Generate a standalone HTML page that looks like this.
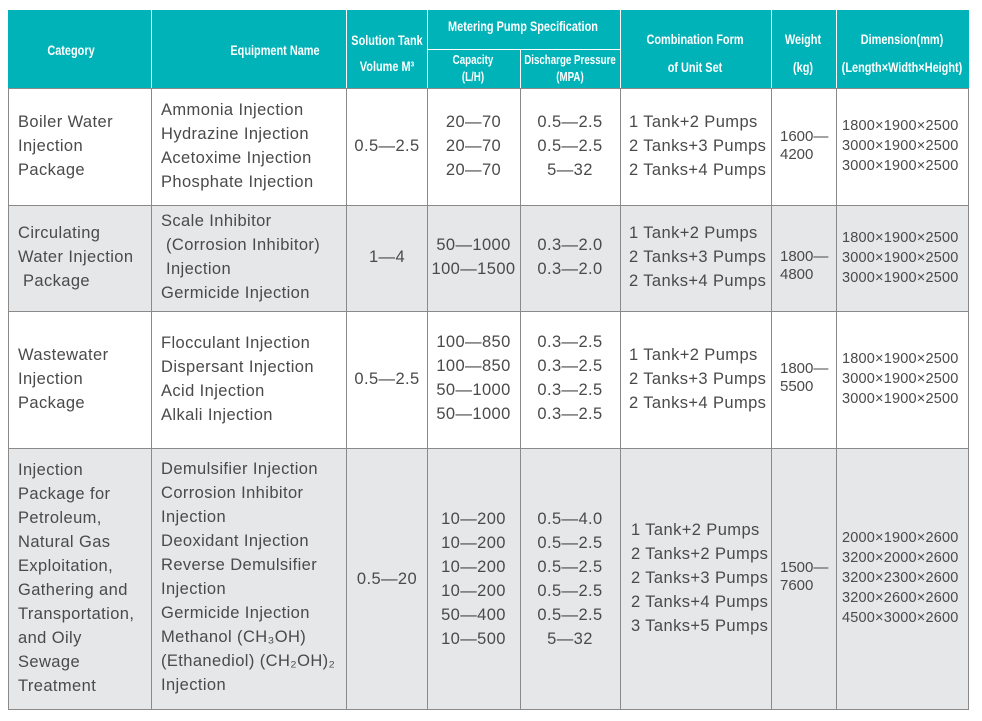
<!DOCTYPE html>
<html><head><meta charset="utf-8"><style>
body{margin:0;width:982px;height:721px;background:#fff;position:relative;overflow:hidden;font-family:"Liberation Sans",sans-serif;}
.a{position:absolute;white-space:pre;color:#4a4a4a;font-size:16.5px;line-height:24px;letter-spacing:0.4px;}
.c{text-align:center;}
.h{position:absolute;width:300px;color:#fff;font-family:"Liberation Sans",sans-serif;font-weight:bold;font-size:14px;text-align:center;white-space:pre;transform:scaleX(0.78);transform-origin:center;}
.s{font-size:12.5px;line-height:17px;}
.w{font-size:15px;line-height:18px;letter-spacing:0;}
.d{font-size:14.5px;line-height:20px;letter-spacing:0.2px;}
</style></head><body>
<svg width="982" height="721" style="position:absolute;left:0;top:0">
<rect x="8" y="10" width="961" height="78" fill="#00b3b9"/>
<rect x="8" y="205" width="961" height="106" fill="#e6e7e8"/>
<rect x="8" y="448" width="961" height="262" fill="#e6e7e8"/>
<g stroke="#fff" stroke-width="1">
<line x1="151.5" y1="10" x2="151.5" y2="88"/><line x1="346.5" y1="10" x2="346.5" y2="88"/><line x1="427.5" y1="10" x2="427.5" y2="88"/><line x1="620.5" y1="10" x2="620.5" y2="88"/><line x1="771.5" y1="10" x2="771.5" y2="88"/><line x1="836.5" y1="10" x2="836.5" y2="88"/>
<line x1="427" y1="49.5" x2="620" y2="49.5"/><line x1="520.5" y1="49" x2="520.5" y2="88"/>
</g>
<g stroke="#8a8a8a" stroke-width="1" fill="none">
<line x1="8" y1="88.5" x2="969" y2="88.5"/><line x1="8" y1="205.5" x2="969" y2="205.5"/><line x1="8" y1="311.5" x2="969" y2="311.5"/><line x1="8" y1="448.5" x2="969" y2="448.5"/><line x1="8" y1="709.5" x2="969" y2="709.5"/>
<line x1="8.5" y1="88" x2="8.5" y2="710"/><line x1="151.5" y1="88" x2="151.5" y2="710"/><line x1="346.5" y1="88" x2="346.5" y2="710"/><line x1="427.5" y1="88" x2="427.5" y2="710"/><line x1="520.5" y1="88" x2="520.5" y2="710"/><line x1="620.5" y1="88" x2="620.5" y2="710"/><line x1="771.5" y1="88" x2="771.5" y2="710"/><line x1="836.5" y1="88" x2="836.5" y2="710"/><line x1="968.5" y1="88" x2="968.5" y2="710"/>
</g>
</svg>
<div class="h" style="left:-79px;top:42px">Category</div>
<div class="h" style="left:125px;top:42px">Equipment Name</div>
<div class="h" style="left:237px;top:27px;line-height:26px">Solution Tank
Volume M³</div>
<div class="h" style="left:373px;top:18px">Metering Pump Specification</div>
<div class="h s" style="left:323px;top:52px">Capacity
(L/H)</div>
<div class="h s" style="left:420px;top:52px">Discharge Pressure
(MPA)</div>
<div class="h" style="left:545px;top:25px;line-height:28px">Combination Form
of Unit Set</div>
<div class="h" style="left:653px;top:25px;line-height:28px">Weight
(kg)</div>
<div class="h" style="left:752px;top:25px;line-height:28px">Dimension(mm)
(Length×Width×Height)</div>

<div class="a" style="left:18px;top:110px">Boiler Water
Injection
Package</div>
<div class="a" style="left:161px;top:98px">Ammonia Injection
Hydrazine Injection
Acetoxime Injection
Phosphate Injection</div>
<div class="a c" style="left:347px;width:80px;top:134px">0.5—2.5</div>
<div class="a c" style="left:427px;width:93px;top:110px">20—70
20—70
20—70</div>
<div class="a c" style="left:520px;width:100px;top:110px">0.5—2.5
0.5—2.5
5—32</div>
<div class="a" style="left:629px;top:110px">1 Tank+2 Pumps
2 Tanks+3 Pumps
2 Tanks+4 Pumps</div>
<div class="a w" style="left:780px;top:128px">1600—
4200</div>
<div class="a d" style="left:842px;top:116px">1800×1900×2500
3000×1900×2500
3000×1900×2500</div>

<div class="a" style="left:18px;top:221px">Circulating
Water Injection
 Package</div>
<div class="a" style="left:161px;top:209px">Scale Inhibitor
 (Corrosion Inhibitor)
 Injection
Germicide Injection</div>
<div class="a c" style="left:347px;width:80px;top:245px">1—4</div>
<div class="a c" style="left:427px;width:93px;top:233px">50—1000
100—1500</div>
<div class="a c" style="left:520px;width:100px;top:233px">0.3—2.0
0.3—2.0</div>
<div class="a" style="left:629px;top:221px">1 Tank+2 Pumps
2 Tanks+3 Pumps
2 Tanks+4 Pumps</div>
<div class="a w" style="left:780px;top:248px">1800—
4800</div>
<div class="a d" style="left:842px;top:228px">1800×1900×2500
3000×1900×2500
3000×1900×2500</div>

<div class="a" style="left:18px;top:343px">Wastewater
Injection
Package</div>
<div class="a" style="left:161px;top:331px">Flocculant Injection
Dispersant Injection
Acid Injection
Alkali Injection</div>
<div class="a c" style="left:347px;width:80px;top:367px">0.5—2.5</div>
<div class="a c" style="left:427px;width:93px;top:330px">100—850
100—850
50—1000
50—1000</div>
<div class="a c" style="left:520px;width:100px;top:330px">0.3—2.5
0.3—2.5
0.3—2.5
0.3—2.5</div>
<div class="a" style="left:629px;top:343px">1 Tank+2 Pumps
2 Tanks+3 Pumps
2 Tanks+4 Pumps</div>
<div class="a w" style="left:780px;top:360px">1800—
5500</div>
<div class="a d" style="left:842px;top:349px">1800×1900×2500
3000×1900×2500
3000×1900×2500</div>

<div class="a" style="left:18px;top:458px">Injection
Package for
Petroleum,
Natural Gas
Exploitation,
Gathering and
Transportation,
and Oily
Sewage
Treatment</div>
<div class="a" style="left:161px;top:457px">Demulsifier Injection
Corrosion Inhibitor
Injection
Deoxidant Injection
Reverse Demulsifier
Injection
Germicide Injection
Methanol (CH₃OH)
(Ethanediol) (CH₂OH)₂
Injection</div>
<div class="a c" style="left:347px;width:80px;top:567px">0.5—20</div>
<div class="a c" style="left:427px;width:93px;top:507px">10—200
10—200
10—200
10—200
50—400
10—500</div>
<div class="a c" style="left:520px;width:100px;top:507px">0.5—4.0
0.5—2.5
0.5—2.5
0.5—2.5
0.5—2.5
5—32</div>
<div class="a" style="left:631px;top:518px">1 Tank+2 Pumps
2 Tanks+2 Pumps
2 Tanks+3 Pumps
2 Tanks+4 Pumps
3 Tanks+5 Pumps</div>
<div class="a w" style="left:780px;top:559px">1500—
7600</div>
<div class="a d" style="left:842px;top:528px">2000×1900×2600
3200×2000×2600
3200×2300×2600
3200×2600×2600
4500×3000×2600</div>
</body></html>
